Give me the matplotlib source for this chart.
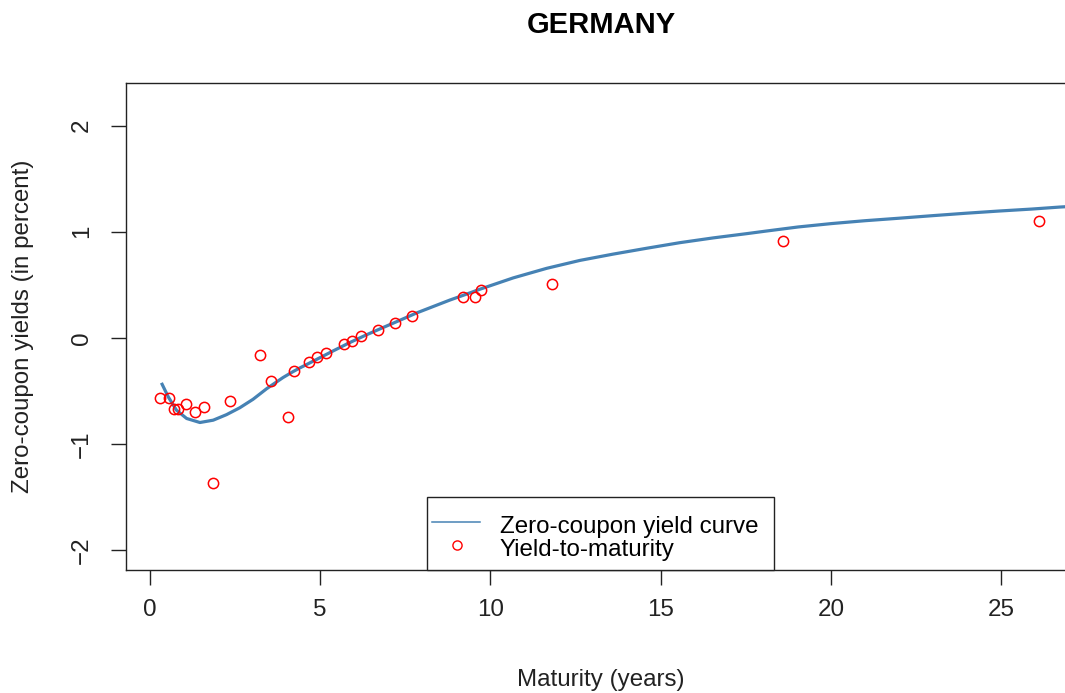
import matplotlib
matplotlib.use("Agg")
import matplotlib.pyplot as plt
from matplotlib.lines import Line2D
from matplotlib.patches import Rectangle

plt.rcParams['font.family'] = ['Liberation Sans', 'DejaVu Sans']

# Yield-to-maturity observations (maturity in years, yield in percent)
ytm_maturity = [0.30, 0.55, 0.70, 0.82, 1.07, 1.33, 1.58, 1.85, 2.36, 3.24,
                3.56, 4.07, 4.22, 4.66, 4.90, 5.18, 5.70, 5.94, 6.19, 6.69,
                7.19, 7.70, 9.18, 9.56, 9.71, 11.80, 18.59, 26.10]
ytm_yield = [-0.572, -0.572, -0.675, -0.675, -0.625, -0.698, -0.657, -1.374,
             -0.594, -0.163, -0.406, -0.751, -0.311, -0.226, -0.179, -0.142,
             -0.059, -0.028, 0.016, 0.073, 0.136, 0.208, 0.387, 0.387, 0.450,
             0.507, 0.912, 1.100]

# Zero-coupon yield curve
curve_maturity = [0.34, 0.54, 0.78, 1.08, 1.47, 1.86, 2.25, 2.64, 3.03, 3.43,
                  3.91, 4.21, 4.40, 4.89, 5.38, 5.87, 6.36, 6.85, 7.34, 7.83,
                  8.32, 8.81, 9.30, 9.69, 10.67, 11.65, 12.63, 13.60, 14.58,
                  15.56, 16.54, 17.52, 18.06, 19.03, 20.01, 20.99, 21.97,
                  22.95, 23.93, 24.91, 25.89, 26.72, 27.30]
curve_yield = [-0.425, -0.557, -0.682, -0.761, -0.799, -0.777, -0.725, -0.660,
               -0.580, -0.480, -0.375, -0.318, -0.285, -0.205, -0.124, -0.045,
               0.028, 0.097, 0.165, 0.234, 0.295, 0.356, 0.412, 0.458, 0.565,
               0.655, 0.730, 0.789, 0.844, 0.897, 0.942, 0.982, 1.005, 1.045,
               1.077, 1.104, 1.127, 1.151, 1.174, 1.195, 1.214, 1.233, 1.244]

x_ticks = [0, 5, 10, 15, 20, 25]
y_ticks = [-2, -1, 0, 1, 2]
legend_labels = ['Zero-coupon yield curve', 'Yield-to-maturity']

CURVE_COLOR = '#4682B4'
POINT_COLOR = '#FF0000'

W, H = 1065, 693
fig = plt.figure(figsize=(W / 100, H / 100), dpi=100)
ax_l, ax_r, ax_t, ax_b = 126, 1076, 83.3, 570
ax = fig.add_axes([ax_l / W, 1 - ax_b / H, (ax_r - ax_l) / W, (ax_b - ax_t) / H])

ax.plot(curve_maturity, curve_yield, color=CURVE_COLOR, lw=2.3,
        solid_joinstyle='round', solid_capstyle='butt', zorder=2)
ax.plot(ytm_maturity, ytm_yield, ls='none', marker='o', markersize=7.4,
        markerfacecolor='none', markeredgecolor=POINT_COLOR,
        markeredgewidth=1.1, zorder=3)

ax.set_xlim(-0.70, 27.19)
ax.set_ylim(-2.19, 2.40)
ax.set_xticks(x_ticks)
ax.set_yticks(y_ticks)

fs = 17.4
ax.tick_params(axis='both', labelsize=fs, length=10.6, width=1.0,
               colors='#222222', labelcolor='#222222')
ax.tick_params(axis='x', pad=10)
ax.tick_params(axis='y', pad=13)
for lab in ax.get_yticklabels():
    lab.set_rotation(90)
    lab.set_va('center')
for sp in ax.spines.values():
    sp.set_linewidth(1.0)
    sp.set_color('#222222')

# Legend (R-style box at the bottom centre of the plot)
def px_to_ax(px, py):
    return (px - ax_l) / (ax_r - ax_l), (ax_b - py) / (ax_b - ax_t)

bx0, by0 = px_to_ax(426.7, 570)
bx1, by1 = px_to_ax(774, 497.3)
ax.add_patch(Rectangle((bx0, by0), bx1 - bx0, by1 - by0, transform=ax.transAxes,
                       facecolor='white', edgecolor='#222222', lw=1.0,
                       zorder=5, clip_on=False))
lx0, ly = px_to_ax(432, 521.7)
lx1, _ = px_to_ax(480, 521.7)
ax.add_line(Line2D([lx0, lx1], [ly, ly], transform=ax.transAxes,
                   color=CURVE_COLOR, lw=1.1, zorder=6))
mx, my = px_to_ax(457, 545)
ax.add_line(Line2D([mx], [my], transform=ax.transAxes, ls='none', marker='o',
                   markersize=6.6, markerfacecolor='none',
                   markeredgecolor=POINT_COLOR, markeredgewidth=1.0, zorder=6))
tx, t1y = px_to_ax(500, 533.3)
_, t2y = px_to_ax(500, 556)
ax.text(tx, t1y, legend_labels[0], transform=ax.transAxes, ha='left',
        va='baseline', fontsize=fs, color='black', zorder=7)
ax.text(tx, t2y, legend_labels[1], transform=ax.transAxes, ha='left',
        va='baseline', fontsize=fs, color='black', zorder=7)

cx = ((ax_l + ax_r) / 2) / W
fig.text(cx, 1 - 33 / H, 'GERMANY', ha='center', va='baseline',
         fontsize=21, fontweight='bold', color='black')
fig.text(cx, 1 - 680 / H, 'Maturity (years)', ha='center', va='center',
         fontsize=fs, color='#222222')
fig.text(23 / W, 1 - ((ax_t + ax_b) / 2) / H, 'Zero-coupon yields (in percent)',
         ha='center', va='center', rotation=90, fontsize=fs, color='#222222')

fig.savefig('out.png', dpi=100)
